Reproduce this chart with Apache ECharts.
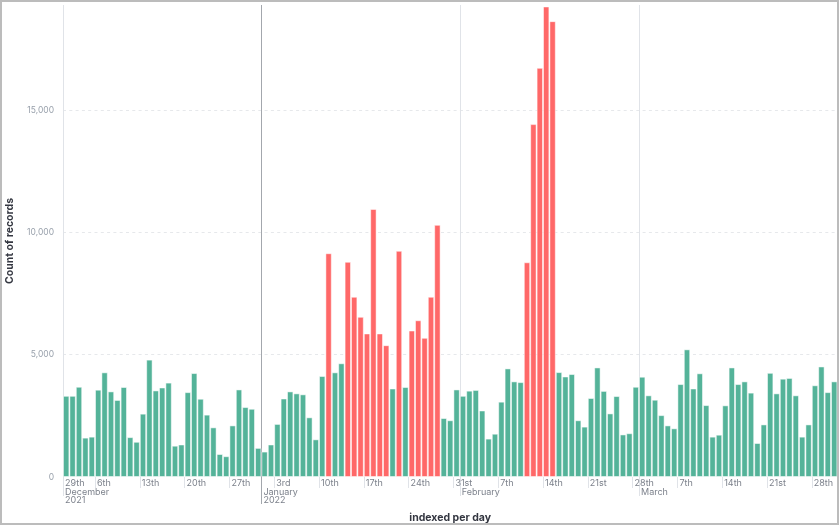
<!DOCTYPE html>
<html>
<head>
<meta charset="utf-8">
<script src="https://cdn.jsdelivr.net/npm/echarts@6/dist/echarts.min.js"></script>
<style>
  html, body { margin: 0; padding: 0; background: #fff; }
  #chart { position: absolute; left: 0; top: 0; width: 840px; height: 526px; }
  #frame { position: absolute; left: 0; top: 0; width: 839px; height: 525px; box-sizing: border-box;
           border: 2px solid #bcbcbc; pointer-events: none; }
</style>
</head>
<body>
<div id="chart"></div>
<div id="frame"></div>
<script>
// ---- data ----
const startDate = '2021-12-01';
const dayCount = 121; // 1 Dec 2021 .. 31 Mar 2022

const decValues = [3320, 3320, 3690, 1610, 1650, 3570, 4280, 3500, 3150, 3680, 1630, 1440, 2590, 4800, 3540, 3660, 3860, 1280, 1330, 3470, 4250, 3200, 2550, 2030, 940, 850, 2110, 3580, 2860, 2790, 1190];
const janValues = [1040, 1330, 2170, 3210, 3500, 3420, 3380, 2440, 1540, 4130, 9150, 4280, 4650, 8800, 7370, 6550, 5870, 10960, 5870, 5390, 3620, 9250, 3680, 5990, 6410, 5690, 7370, 10310, 2410, 2320, 3580];
const febValues = [3320, 3530, 3560, 2720, 1570, 1770, 3080, 4440, 3910, 3880, 8780, 14430, 16730, 19240, 18640, 4290, 4110, 4210, 2320, 2060, 3230, 4480, 3520, 2600, 3310, 1740, 1790, 3690];
const marValues = [4100, 3340, 3160, 2530, 2110, 1990, 3800, 5220, 3620, 4240, 2940, 1650, 1730, 2930, 4480, 3800, 3910, 3450, 1390, 2150, 4260, 3420, 4020, 4050, 3340, 1650, 2150, 3750, 4520, 3470, 3910];

// days highlighted in red
const flaggedDays = ['2022-01-11', '2022-01-14', '2022-01-15', '2022-01-16', '2022-01-17', '2022-01-18',
  '2022-01-19', '2022-01-20', '2022-01-22', '2022-01-24', '2022-01-25', '2022-01-26', '2022-01-27',
  '2022-01-28', '2022-02-11', '2022-02-12', '2022-02-13', '2022-02-14', '2022-02-15'];

// week ticks (Mondays); the first one is clamped to the start of the axis
const weekTickDates = ['2021-11-29', '2021-12-06', '2021-12-13', '2021-12-20', '2021-12-27', '2022-01-03',
  '2022-01-10', '2022-01-17', '2022-01-24', '2022-01-31', '2022-02-07', '2022-02-14', '2022-02-21',
  '2022-02-28', '2022-03-07', '2022-03-14', '2022-03-21', '2022-03-28'];
const weekTickLabels = ['29th', '6th', '13th', '20th', '27th', '3rd', '10th', '17th', '24th', '31st',
  '7th', '14th', '21st', '28th', '7th', '14th', '21st', '28th'];

const monthTickDates = ['2021-12-01', '2022-01-01', '2022-02-01', '2022-03-01'];
const monthTickLabels = ['December\n2021', 'January\n2022', 'February', 'March'];
const yearTickDates = ['2022-01-01'];

const yTicks = [0, 5000, 10000, 15000];

// ---- build ----
function fmt(d) {
  const y = d.getUTCFullYear(), m = d.getUTCMonth() + 1, dd = d.getUTCDate();
  return y + '-' + (m < 10 ? '0' : '') + m + '-' + (dd < 10 ? '0' : '') + dd;
}
const categories = [];
{
  const d0 = new Date(startDate + 'T00:00:00Z');
  for (let i = 0; i < dayCount; i++) {
    categories.push(fmt(new Date(d0.getTime() + i * 86400000)));
  }
}
const values = decValues.concat(janValues, febValues, marValues);
const flagSet = new Set(flaggedDays);
const normalData = values.map((v, i) => flagSet.has(categories[i]) ? '-' : v);
const flaggedData = values.map((v, i) => flagSet.has(categories[i]) ? v : '-');

function dayPos(dateStr) {
  const idx = categories.indexOf(dateStr);
  return idx < 0 ? 0 : idx;
}
const weekPos = weekTickDates.map(dayPos);
const weekLabelMap = {};
weekPos.forEach((p, i) => { weekLabelMap[p] = weekTickLabels[i]; });
const monthPos = monthTickDates.map(dayPos);
const monthLabelMap = {};
monthPos.forEach((p, i) => { monthLabelMap[p] = monthTickLabels[i]; });
const yearPos = yearTickDates.map(dayPos);
const monthLinePos = monthPos.filter(p => yearPos.indexOf(p) < 0);

const FONT = 'Inter, "Noto Sans", sans-serif';
const LIGHT = '#e0e3e8';
const LABEL = '#7d828c';

const chart = echarts.init(document.getElementById('chart'), null, { renderer: 'canvas' });
const grid = { left: 63, right: 2.6, top: 5, bottom: 49, containLabel: false, outerBoundsMode: 'none' };

const baseValueAxis = {
  type: 'value', min: 0, max: dayCount, gridIndex: 0, position: 'bottom',
  axisLine: { show: false }, splitArea: { show: false }
};

chart.setOption({
  animation: false,
  backgroundColor: '#ffffff',
  textStyle: { fontFamily: FONT },
  grid: grid,
  xAxis: [
    {
      type: 'category', data: categories, boundaryGap: true, position: 'bottom',
      axisLine: { show: false }, axisTick: { show: false }, axisLabel: { show: false },
      splitLine: { show: false },
      name: 'indexed per day', nameLocation: 'middle', nameGap: 35,
      nameTextStyle: { fontFamily: FONT, fontSize: 10.5, fontWeight: 'bold', color: '#343741' }
    },
    Object.assign({}, baseValueAxis, {
      axisTick: { show: true, length: 11, customValues: weekPos, lineStyle: { color: LIGHT, width: 1 } },
      axisLabel: {
        show: true, customValues: weekPos, margin: 2, align: 'left', padding: [0, 0, 0, 2],
        fontFamily: FONT, fontSize: 9, color: LABEL,
        formatter: v => weekLabelMap[v] || ''
      },
      splitLine: { show: false }
    }),
    Object.assign({}, baseValueAxis, {
      axisTick: { show: true, length: 19, customValues: monthLinePos, lineStyle: { color: LIGHT, width: 1 } },
      axisLabel: {
        show: true, customValues: monthPos, margin: 11, align: 'left', padding: [0, 0, 0, 2],
        fontFamily: FONT, fontSize: 9, lineHeight: 8.5, color: LABEL,
        formatter: v => monthLabelMap[v] || ''
      },
      splitLine: { show: true, lineStyle: { color: LIGHT, width: 1 } }
    }),
    Object.assign({}, baseValueAxis, {
      axisTick: { show: true, length: 27, customValues: yearPos, lineStyle: { color: '#a3a7ad', width: 1 } },
      axisLabel: { show: false },
      splitLine: { show: true, lineStyle: { color: '#a3a7ad', width: 1 } }
    })
  ],
  yAxis: {
    type: 'value', min: 0, max: 19300, interval: 5000,
    axisLine: { show: false }, axisTick: { show: false },
    axisLabel: {
      margin: 9, fontFamily: FONT, fontSize: 8.5, color: '#98a0ab', showMaxLabel: false,
      formatter: v => yTicks.indexOf(v) >= 0 ? v.toLocaleString('en-US') : ''
    },
    splitLine: { show: true, showMinLine: false, showMaxLine: false,
      lineStyle: { color: '#e6e8eb', type: [3, 3.3], width: 1 } },
    name: 'Count of records', nameLocation: 'middle', nameGap: 48, nameRotate: 90,
    nameTextStyle: { fontFamily: FONT, fontSize: 10.5, fontWeight: 'bold', color: '#343741' }
  },
  series: [
    {
      name: 'Count of records', type: 'bar', xAxisIndex: 0, yAxisIndex: 0,
      data: normalData, barCategoryGap: '0%', barGap: '-100%',
      itemStyle: { color: '#54b399', borderColor: 'rgba(255,255,255,0.5)', borderWidth: 1 }
    },
    {
      name: 'Flagged', type: 'bar', xAxisIndex: 0, yAxisIndex: 0,
      data: flaggedData, barCategoryGap: '0%', barGap: '-100%',
      itemStyle: { color: '#ff6868', borderColor: 'rgba(255,255,255,0.5)', borderWidth: 1 }
    }
  ]
});
</script>
</body>
</html>
